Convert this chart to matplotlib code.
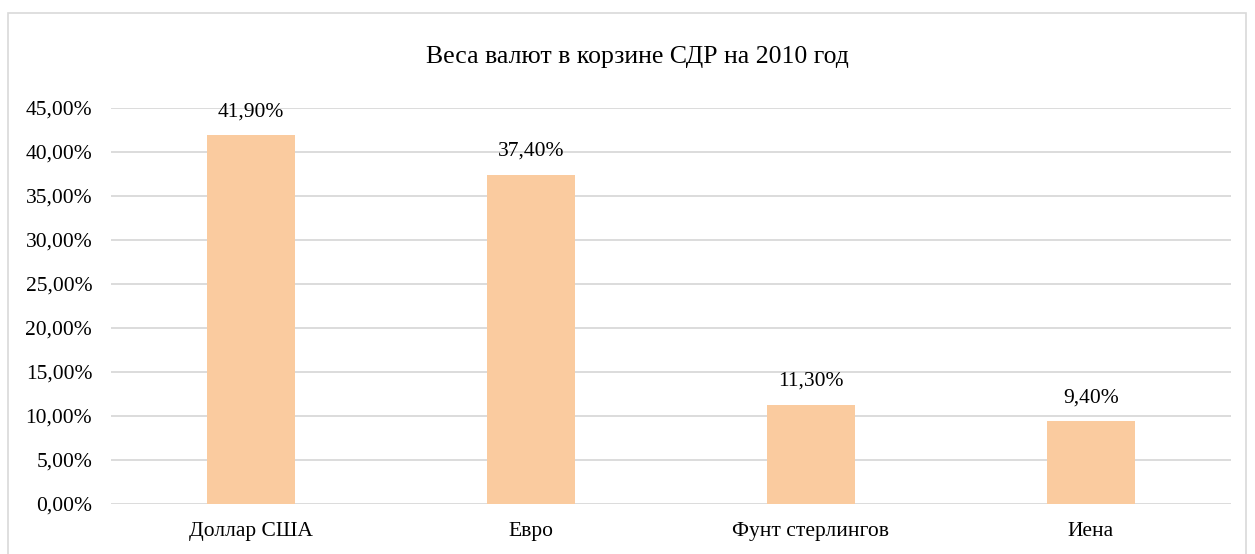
import matplotlib
matplotlib.use("Agg")
import matplotlib.pyplot as plt
from matplotlib.patches import Rectangle
from matplotlib.ticker import FuncFormatter, MultipleLocator

categories = ["Доллар США", "Евро", "Фунт стерлингов", "Иена"]
values = [41.90, 37.40, 11.30, 9.40]
title = "Веса валют в корзине СДР на 2010 год"

plt.rcParams['font.family'] = ['Liberation Serif', 'DejaVu Serif']

fig = plt.figure(figsize=(12.55, 5.54), dpi=100)
ax = fig.add_axes([111/1255, 1 - 504/554, 1120/1255, 396/554])

x = range(len(categories))
bars = ax.bar(x, values, width=0.314, color="#FACB9F", zorder=3)
ax.set_xlim(-0.5, len(categories) - 0.5)
ax.set_ylim(0, 45)
ax.yaxis.set_major_locator(MultipleLocator(5))
ax.yaxis.set_major_formatter(FuncFormatter(lambda v, p: f"{v:.2f}%".replace(".", ",")))
ax.set_xticks(list(x))
ax.set_xticklabels(categories)
ax.grid(axis="y", color="#d9d9d9", linewidth=1.3, zorder=0)
for s in ax.spines.values():
    s.set_visible(False)
ax.tick_params(axis="both", length=0, labelsize=15.5, colors="#000000")
ax.tick_params(axis="x", pad=13)
ax.tick_params(axis="y", pad=13.5)

for b, v in zip(bars, values):
    ax.annotate(f"{v:.2f}%".replace(".", ","), (b.get_x() + b.get_width()/2, v),
                xytext=(0, 10), textcoords="offset points", ha="center", va="bottom",
                fontsize=15.5, color="#000000")

fig.text(637/1255, 1 - 57/554, title, ha="center", va="center", fontsize=18.5, color="#000000")

fig.patches.append(Rectangle((8/1255, -0.05), 1238/1255, 1.05 - 13/554, transform=fig.transFigure,
                             fill=False, edgecolor="#d9d9d9", linewidth=1.2))

fig.savefig("out.png", dpi=100)
